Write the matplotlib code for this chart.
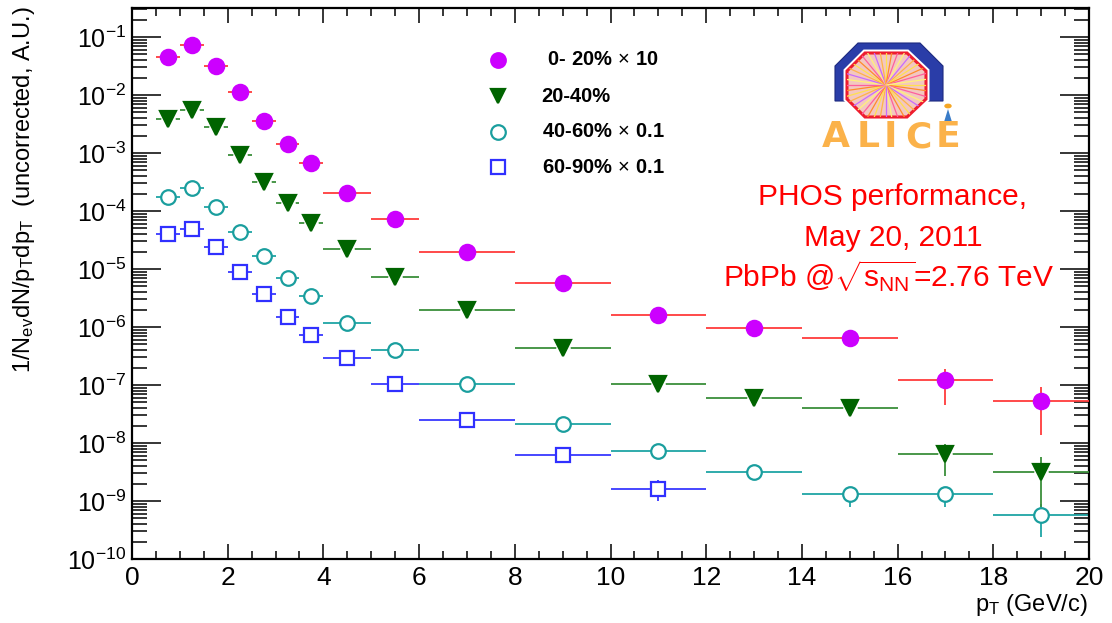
#Import relevant packages
import numpy as np
import matplotlib
matplotlib.use('Agg')
import matplotlib.pyplot as plt
from matplotlib.ticker import LogLocator, MultipleLocator, NullFormatter
from matplotlib.patches import Polygon, Circle

plt.rcParams['font.family'] = ['Liberation Sans', 'DejaVu Sans']
plt.rcParams['mathtext.fontset'] = 'custom'
plt.rcParams['mathtext.rm'] = 'Liberation Sans'
plt.rcParams['mathtext.it'] = 'Liberation Sans:italic'
plt.rcParams['mathtext.bf'] = 'Liberation Sans:bold'

#pT bins
bin_lo = [0.5, 1.0, 1.5, 2.0, 2.5, 3.0, 3.5, 4.0, 5.0, 6.0, 8.0, 10.0, 12.0, 14.0, 16.0, 18.0]
bin_hi = [1.0, 1.5, 2.0, 2.5, 3.0, 3.5, 4.0, 5.0, 6.0, 8.0, 10.0, 12.0, 14.0, 16.0, 18.0, 20.0]

#Spectra
c0_20 = [4.5e-2, 7.3e-2, 3.16e-2, 1.13e-2, 3.56e-3, 1.43e-3, 6.7e-4, 2.04e-4, 7.2e-5,
         1.96e-5, 5.75e-6, 1.62e-6, 9.6e-7, 6.5e-7, 1.23e-7, 5.3e-8]
c0_20_elo = [0]*14 + [7.8e-8, 3.9e-8]
c0_20_ehi = [0]*14 + [6.7e-8, 3.9e-8]

c20_40 = [3.85e-3, 5.5e-3, 2.8e-3, 9.3e-4, 3.2e-4, 1.38e-4, 6.3e-5, 2.2e-5, 7.2e-6,
          1.96e-6, 4.4e-7, 1.04e-7, 6.0e-8, 4.0e-8, 6.5e-9, 3.2e-9]
c20_40_elo = [0]*14 + [3.8e-9, 2.4e-9]
c20_40_ehi = [0]*14 + [3.1e-9, 2.6e-9]

c40_60 = [1.74e-4, 2.5e-4, 1.18e-4, 4.4e-5, 1.66e-5, 6.9e-6, 3.4e-6, 1.17e-6, 4.0e-7,
          1.05e-7, 2.13e-8, 7.2e-9, 3.2e-9, 1.32e-9, 1.32e-9, 5.7e-10]
c40_60_elo = [0]*12 + [0.9e-9, 5.3e-10, 5.3e-10, 3.3e-10]
c40_60_ehi = [0]*12 + [0.0, 2.0e-10, 2.0e-10, 3.2e-10]

#last bins of 60-90% are empty
c60_90 = [4.0e-5, 4.9e-5, 2.4e-5, 8.9e-6, 3.7e-6, 1.49e-6, 7.2e-7, 2.94e-7, 1.04e-7,
          2.5e-8, 6.2e-9, 1.6e-9]
c60_90_elo = [0]*11 + [0.6e-9]
c60_90_ehi = [0]*11 + [0.7e-9]

labels = [' 0- 20%$\\,\\times\\,$10', '20-40%', '40-60%$\\,\\times\\,$0.1', '60-90%$\\,\\times\\,$0.1']

bin_lo = np.array(bin_lo)
bin_hi = np.array(bin_hi)
pt = 0.5*(bin_lo + bin_hi)

fig = plt.figure(figsize=(11.12, 6.23), dpi=100)
ax = fig.add_axes([132/1112, 64/623, 957/1112, 551/623])

def draw(y, elo, ehi, n, mk, mcol, lcol, filled, ms, z):
    x = pt[:n]
    xerr = [x - bin_lo[:n], bin_hi[:n] - x]
    ax.errorbar(x, y, xerr=xerr, yerr=[elo, ehi], fmt='none', ecolor=lcol,
                elinewidth=1.3, capsize=0, zorder=z)
    #white halo to mimic the gap around the point
    ax.plot(x, y, ls='none', marker='o', ms=ms*0.95, mfc='white', mec='none', zorder=z+0.1)
    ax.plot(x, y, ls='none', marker=mk, ms=ms, mfc=mcol if filled else 'white',
            mec=mcol, mew=1.6, zorder=z+0.2)

draw(c0_20, c0_20_elo, c0_20_ehi, 16, 'o', '#cc00ff', '#ff3b3b', True, 11, 4)
draw(c20_40, c20_40_elo, c20_40_ehi, 16, 'v', '#006400', '#3a8f3a', True, 11, 3)
draw(c40_60, c40_60_elo, c40_60_ehi, 16, 'o', '#1a9e9e', '#1fa5a5', False, 10.5, 2)
draw(c60_90, c60_90_elo, c60_90_ehi, 12, 's', '#3030ff', '#3838ff', False, 10, 1)

ax.set_yscale('log')
ax.set_xlim(0, 20)
ax.set_ylim(1e-10, 10**-0.5)

ax.xaxis.set_major_locator(MultipleLocator(2))
ax.xaxis.set_minor_locator(MultipleLocator(0.5))
ax.set_yticks(10.0**np.arange(-10, 0))
ax.yaxis.set_minor_locator(LogLocator(base=10, subs=np.arange(2, 10), numticks=20))
ax.yaxis.set_minor_formatter(NullFormatter())
ax.tick_params(axis='both', which='both', direction='in', top=True, right=True, width=1.1)
ax.tick_params(axis='x', which='major', length=11, labelsize=19, pad=5)
ax.tick_params(axis='x', which='minor', length=5.5)
ax.tick_params(axis='y', which='major', length=21, labelsize=18, pad=4)
ax.tick_params(axis='y', which='minor', length=11)
for s in ax.spines.values():
    s.set_linewidth(1.6)

#legend drawn by hand
leg_y = [0.906, 0.840, 0.775, 0.711]
leg_style = [('o', '#cc00ff', True), ('v', '#006400', True), ('o', '#1a9e9e', False), ('s', '#3030ff', False)]
for yy, (mk, col, filled), lab in zip(leg_y, leg_style, labels):
    ax.plot([0.3825], [yy], transform=ax.transAxes, marker=mk, ms=10.5, mfc=col if filled else 'white',
            mec=col, mew=1.6, ls='none', clip_on=False)
    ax.text(0.428, yy, lab, transform=ax.transAxes, fontsize=14.5, fontweight='bold',
            va='center', ha='left')

#labels
fig.text(24/1112, 1 - 6/623, r'1/N$_{\mathrm{ev}}$dN/p$_{\mathrm{T}}$dp$_{\mathrm{T}}$  (uncorrected, A.U.)',
         rotation=90, ha='center', va='top', fontsize=17)
fig.text(1088/1112, 1 - 605/623, r'p$_{\mathrm{T}}$ (GeV/c)', ha='right', va='center', fontsize=17)

fig.text(893/1112, 1 - 197/623, 'PHOS performance,', color='red', fontsize=21.5, ha='center', va='center')
fig.text(893/1112, 1 - 238/623, 'May 20, 2011', color='red', fontsize=21.5, ha='center', va='center')
fig.text(888/1112, 1 - 276/623, r'PbPb @$\sqrt{\mathrm{s}_{\mathrm{NN}}}$=2.76 TeV', color='red', fontsize=21.5,
         ha='center', va='center')

#ALICE logo (rough sketch)
def px(x, y):
    return (x/1112, 1 - y/623)

tf = fig.transFigure
blue = Polygon([px(835, 101), px(835, 66), px(858, 43), px(920, 43), px(943, 66), px(943, 101)],
               closed=True, fc='#2a3da8', ec='#1d2a80', lw=0.8, transform=tf)
fig.add_artist(blue)
octa_pts = [px(865, 53), px(907, 53), px(926, 71), px(926, 99), px(907, 117), px(865, 117),
            px(847, 99), px(847, 71)]
halo = Polygon(octa_pts, closed=True, fc='none', ec='white', lw=5, transform=tf)
fig.add_artist(halo)
octa = Polygon(octa_pts, closed=True, fc='#f3c7c0', ec='none', transform=tf)
fig.add_artist(octa)
ray_cols = ['#ffe14d', '#ff8c2a', '#ff5f9e', '#fff27a', '#c76bff', '#ffb347']
cx, cy = 886, 85
for k, a in enumerate(np.linspace(0, 2*np.pi, 40, endpoint=False)):
    x1, y1 = px(cx, cy)
    x2, y2 = px(cx + 45*np.cos(a), cy + 40*np.sin(a))
    ln = plt.Line2D([x1, x2], [y1, y2], transform=tf, color=ray_cols[k % 6], lw=0.9)
    fig.add_artist(ln)
    ln.set_clip_path(octa)
rim = Polygon(octa_pts, closed=True, fc='none', ec='#ee1c2e', lw=2.2, transform=tf)
fig.add_artist(rim)
fig.add_artist(Circle(px(948, 106), 3/1112, color='#f5a623', transform=tf))
fig.add_artist(Polygon([px(944, 122), px(948, 109), px(952, 122)], closed=True, fc='#3a7cc8',
                       ec='none', transform=tf))
for ch, xc in zip('ALICE', [836, 868, 890, 918, 948]):
    fig.text(xc/1112, 1 - 137/623, ch, color='#fbb24a', fontsize=26, fontweight='bold',
             ha='center', va='center', family='DejaVu Sans')

plt.savefig('out.png', dpi=100)
